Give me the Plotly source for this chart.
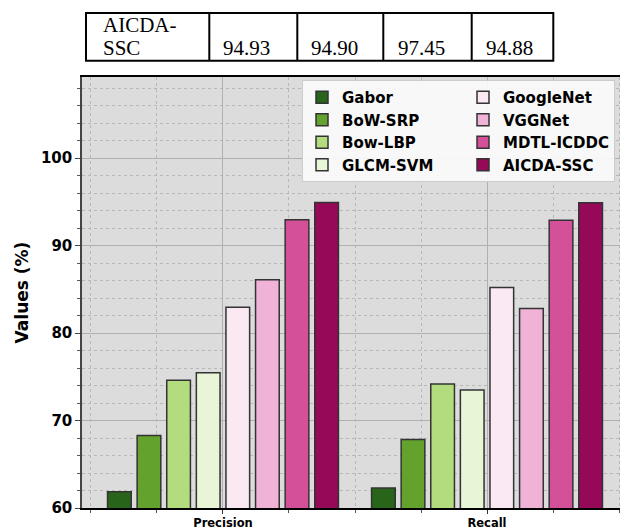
import plotly.graph_objects as go

# ---------------- data ----------------
metrics = ["Precision", "Recall"]
methods = ["Gabor", "BoW-SRP", "Bow-LBP", "GLCM-SVM",
           "GoogleNet", "VGGNet", "MDTL-ICDDC", "AICDA-SSC"]
precision = [61.86, 68.30, 74.60, 75.45, 82.94, 86.10, 92.95, 94.93]
recall = [62.30, 67.84, 74.17, 73.50, 85.20, 82.80, 92.90, 94.90]
y_ticks = [60, 70, 80, 90, 100]

table_label = ["AICDA-", "SSC"]
table_values = ["94.93", "94.90", "97.45", "94.88"]

# ---------------- style ----------------
colors = ["#286419", "#64a22e", "#b2dc7d", "#e8f5d7",
          "#fae8f2", "#f1b2d8", "#d45098", "#960858"]

OFF = 8                      # default page body margin
W, H = 628 - OFF, 528 - OFF
L, R, T, B = 82 - OFF, 0, 77 - OFF, 20
PW, PH = W - L - R, H - T - B


def px_x(x):
    """window pixel x -> paper coordinate"""
    return (x - OFF - L) / PW


def px_y(y):
    """window pixel y -> paper coordinate"""
    return (H - B - (y - OFF)) / PH


BOLD = dict(family="DejaVu Sans", weight="bold", color="black")

fig = go.Figure()
x_pos = list(range(len(metrics)))
for i, (name, col) in enumerate(zip(methods, colors)):
    kw = {}
    if i < 4:
        kw["legendwidth"] = 116
    fig.add_trace(go.Bar(
        x=x_pos,
        y=[precision[i], recall[i]],
        name=name,
        marker=dict(color=col, line=dict(color="#333333", width=1.5)),
        legendgroup="a" if i < 4 else "b",
        hoverinfo="x+y+name",
        **kw,
    ))

grid_major = "#b0b0b0"
grid_minor = "#b8b8b8"

fig.update_layout(
    width=W, height=H,
    margin=dict(l=L, r=R, t=T, b=B, autoexpand=False),
    paper_bgcolor="white",
    plot_bgcolor="#dcdcdc",
    barmode="group",
    bargap=0.103,
    bargroupgap=0.2,
    showlegend=True,
    legend=dict(
        orientation="h",
        traceorder="grouped",
        tracegroupgap=0,
        x=px_x(302), y=px_y(80),
        xanchor="left", yanchor="top",
        bgcolor="rgba(250,250,250,0.92)",
        bordercolor="#cccccc", borderwidth=1,
        font=dict(size=15, **BOLD),
    ),
    xaxis=dict(
        range=[-0.534, 1.534],
        tickvals=x_pos, ticktext=metrics,
        ticks="outside", ticklen=4, tickwidth=1.2, tickcolor="#333333",
        tickfont=dict(size=11.5, **BOLD),
        ticklabelstandoff=-1,
        showgrid=True, gridcolor=grid_major, gridwidth=1.2,
        zeroline=False,
        showline=True, linecolor="black", linewidth=1.5, mirror=True,
        minor=dict(tick0=0, dtick=0.25, ticks="outside", ticklen=3,
                   tickcolor="#555555", showgrid=True, gridcolor=grid_minor,
                   griddash="dot", gridwidth=1),
        fixedrange=True,
    ),
    yaxis=dict(
        range=[60, 109.27],
        tickvals=y_ticks,
        ticks="outside", ticklen=5, tickwidth=1.2, tickcolor="#444444",
        tickfont=dict(size=15, **BOLD),
        ticklabelstandoff=0,
        showgrid=True, gridcolor=grid_major, gridwidth=1.2,
        zeroline=False,
        showline=True, linecolor="#444444", linewidth=1.5, mirror=True,
        minor=dict(tick0=0, dtick=2, ticks="outside", ticklen=3,
                   tickcolor="#555555", showgrid=True, gridcolor=grid_minor,
                   griddash="dot", gridwidth=1),
        title=dict(text="Values (%)", font=dict(size=17, **BOLD), standoff=8),
        fixedrange=True,
    ),
)

# ---------------- table fragment above the chart ----------------
tbl_left, tbl_right = 86, 553.3
tbl_top, tbl_bottom = 13, 60.7
col_lines = [209.3, 297.3, 383.3, 471.7]
line_style = dict(color="black", width=2)
fig.add_shape(type="rect", xref="paper", yref="paper",
              x0=px_x(tbl_left), x1=px_x(tbl_right),
              y0=px_y(tbl_bottom), y1=px_y(tbl_top), line=line_style)
for cx in col_lines:
    fig.add_shape(type="line", xref="paper", yref="paper",
                  x0=px_x(cx), x1=px_x(cx),
                  y0=px_y(tbl_bottom), y1=px_y(tbl_top), line=line_style)

serif = dict(family="Liberation Serif", size=21, color="black")
label_rows = [24.6, 48.0]
for txt, yy in zip(table_label, label_rows):
    fig.add_annotation(text=txt, xref="paper", yref="paper",
                       x=px_x(101), y=px_y(yy), xanchor="left",
                       yanchor="middle", showarrow=False, font=serif)
value_x = [221.7, 310, 396.7, 485]
for txt, xx in zip(table_values, value_x):
    fig.add_annotation(text=txt, xref="paper", yref="paper",
                       x=px_x(xx - 1), y=px_y(48.0), xanchor="left",
                       yanchor="middle", showarrow=False, font=serif)

fig.write_html("out.html")
